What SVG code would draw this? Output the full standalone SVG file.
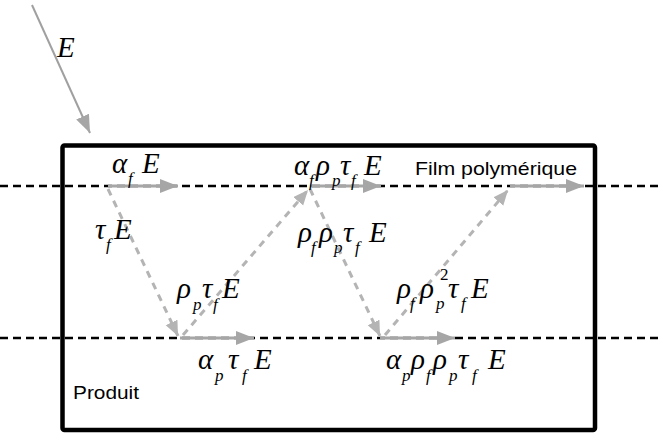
<svg xmlns="http://www.w3.org/2000/svg" width="658" height="435" viewBox="0 0 658 435">
<style>
.m{font-family:"Liberation Serif","Times New Roman",serif;font-style:italic;font-size:29px;fill:#000}
.s{font-size:17px}
.t{font-family:"Liberation Sans",Arial,sans-serif;font-size:19px;fill:#000}
.dl{stroke:#000;stroke-width:2.5;stroke-dasharray:8,5;fill:none}
.ha{stroke:#a6a6a6;stroke-width:3;fill:none;marker-end:url(#ah)}
.da{stroke:#b4b4b4;stroke-width:3;stroke-dasharray:7,6;fill:none;marker-end:url(#ahs)}
</style>
<defs>
<marker id="ah" markerUnits="userSpaceOnUse" markerWidth="20" markerHeight="16" refX="18" refY="7" orient="auto">
<path d="M0,0 L18,7 L0,14 Z" fill="#a6a6a6"/>
</marker>
<marker id="ahs" markerUnits="userSpaceOnUse" markerWidth="18" markerHeight="16" refX="15" refY="6.5" orient="auto">
<path d="M0,0 L15,6.5 L0,13 Z" fill="#b4b4b4"/>
</marker>
</defs>
<rect width="658" height="435" fill="#fff"/>
<g id="box">
<rect x="62.5" y="145.5" width="532.5" height="284.5" rx="2" fill="none" stroke="#000" stroke-width="4.5"/>
</g>
<g id="layers">
<line class="dl" x1="0" y1="186" x2="658" y2="186"/>
<line class="dl" x1="0" y1="338" x2="658" y2="338"/>
</g>
<g id="connectors">
<line x1="32" y1="5" x2="90" y2="133" stroke="#a0a0a0" stroke-width="2" marker-end="url(#ah)"/>
<line class="ha" x1="108" y1="186" x2="178" y2="186"/>
<line class="ha" x1="310" y1="186" x2="381" y2="186"/>
<line class="ha" x1="510" y1="186" x2="584" y2="186"/>
<line class="ha" x1="180" y1="338" x2="254" y2="338"/>
<line class="ha" x1="380" y1="338" x2="455" y2="338"/>
<line class="da" x1="108" y1="189" x2="178" y2="336"/>
<line class="da" x1="183" y1="335" x2="308" y2="190"/>
<line class="da" x1="310" y1="189" x2="380" y2="336"/>
<line class="da" x1="385" y1="335" x2="508" y2="190"/>
</g>
<g id="labels">
<text class="m" x="57" y="57">E</text>
<text class="m"><tspan x="112" y="173">α</tspan><tspan class="s" x="128" y="184">f</tspan><tspan x="142" y="173">E</tspan></text>
<text class="m"><tspan x="95" y="239">τ</tspan><tspan class="s" x="106" y="250">f</tspan><tspan x="114" y="239">E</tspan></text>
<text class="m"><tspan x="177" y="298">ρ</tspan><tspan class="s" x="193" y="310">p</tspan><tspan x="202" y="298">τ</tspan><tspan class="s" x="213" y="310">f</tspan><tspan x="222" y="298">E</tspan></text>
<text class="m"><tspan x="198" y="369">α</tspan><tspan class="s" x="215" y="381">p</tspan><tspan x="228" y="369">τ</tspan><tspan class="s" x="242" y="381">f</tspan><tspan x="254" y="369">E</tspan></text>
<text class="m"><tspan x="294" y="175">α</tspan><tspan class="s" x="309" y="186">f</tspan><tspan x="316" y="175">ρ</tspan><tspan class="s" x="332" y="186">p</tspan><tspan x="340" y="175">τ</tspan><tspan class="s" x="351" y="186">f</tspan><tspan x="364" y="175">E</tspan></text>
<text class="m"><tspan x="298" y="242">ρ</tspan><tspan class="s" x="311" y="253">f</tspan><tspan x="319" y="242">ρ</tspan><tspan class="s" x="334" y="253">p</tspan><tspan x="343" y="242">τ</tspan><tspan class="s" x="355" y="253">f</tspan><tspan x="369" y="242">E</tspan></text>
<text class="m"><tspan x="397" y="298">ρ</tspan><tspan class="s" x="410" y="309">f</tspan><tspan x="420" y="298">ρ</tspan><tspan class="s" x="436" y="309">p</tspan><tspan class="s" x="440" y="280" font-style="normal">2</tspan><tspan x="448" y="298">τ</tspan><tspan class="s" x="461" y="309">f</tspan><tspan x="471" y="298">E</tspan></text>
<text class="m"><tspan x="386" y="369">α</tspan><tspan class="s" x="402" y="381">p</tspan><tspan x="411" y="369">ρ</tspan><tspan class="s" x="426" y="381">f</tspan><tspan x="433" y="369">ρ</tspan><tspan class="s" x="449" y="381">p</tspan><tspan x="458" y="369">τ</tspan><tspan class="s" x="472" y="381">f</tspan><tspan x="488" y="369">E</tspan></text>
<text class="t" x="415" y="175" textLength="162" lengthAdjust="spacingAndGlyphs">Film polymérique</text>
<text class="t" x="73" y="399" textLength="66" lengthAdjust="spacingAndGlyphs">Produit</text>
</g>
</svg>
